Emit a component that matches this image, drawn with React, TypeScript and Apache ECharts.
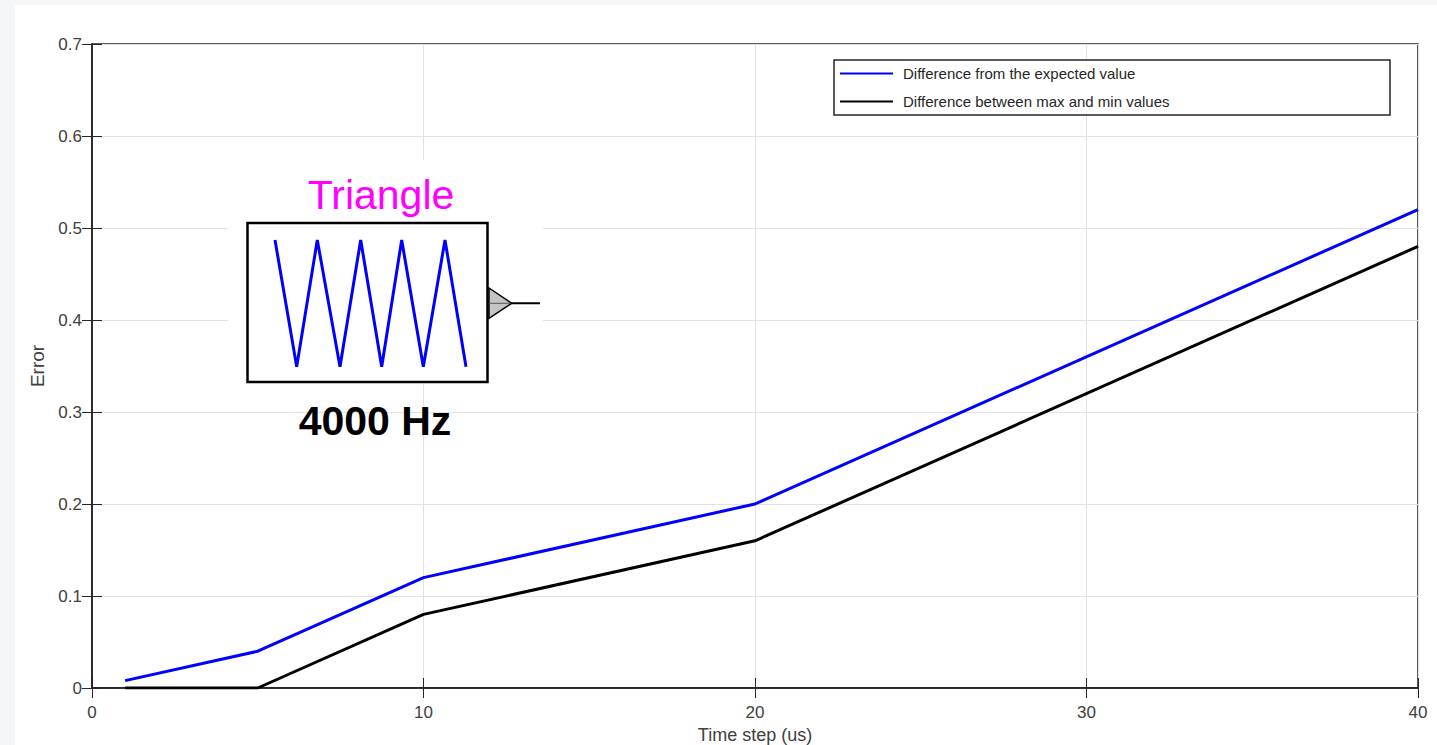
import React, { useEffect, useRef } from "react";
import * as echarts from "echarts";

const timeSteps = [1, 5, 10, 20, 40];
const diffExpected = [0.008, 0.04, 0.12, 0.2, 0.52];
const diffMaxMin = [0, 0, 0.08, 0.16, 0.48];
const seriesNames = ["Difference from the expected value", "Difference between max and min values"];
const xTicks = [0, 10, 20, 30, 40];
const yTicks = [0, 0.1, 0.2, 0.3, 0.4, 0.5, 0.6, 0.7];

const FONT = "Liberation Sans, Arial, sans-serif";

export default function App() {
  const ref = useRef<HTMLDivElement>(null);
  useEffect(() => {
    if (!ref.current) return;
    const chart = echarts.init(ref.current, undefined, { renderer: "svg" });
    const tickLabel = { color: "#404040", fontSize: 17, fontFamily: FONT };
    const option: any = {
      animation: false,
      backgroundColor: "#ffffff",
      textStyle: { fontFamily: FONT },
      grid: {
        left: 77,
        right: 19,
        top: 39,
        bottom: 57,
        containLabel: false,
        outerBoundsMode: "none",
        show: true,
        borderColor: "#262626",
        borderWidth: 1.5,
        backgroundColor: "transparent",
      },
      legend: {
        left: 825,
        top: 61,
        orient: "vertical",
        padding: 0,
        itemGap: 13,
        itemWidth: 53,
        itemHeight: 14,
        icon: "path://M0,6 L53,6 L53,8 L0,8 Z",
        textStyle: { fontSize: 15, color: "#262626", fontFamily: FONT, padding: [0, 0, 0, 5] },
        data: seriesNames,
      },
      xAxis: [
        {
          type: "value",
          min: 0,
          max: 40,
          interval: 10,
          name: "Time step (us)",
          nameLocation: "middle",
          nameGap: 36,
          nameTextStyle: { fontSize: 18, color: "#404040", fontFamily: FONT },
          axisLine: { show: true, lineStyle: { color: "#262626", width: 1.5 } },
          axisTick: { show: true, inside: true, length: 10, lineStyle: { color: "#262626" } },
          axisLabel: { ...tickLabel, margin: 16, formatter: (v: number) => (xTicks.includes(v) ? String(v) : "") },
          splitLine: { show: true, lineStyle: { color: "#e2e2e2", width: 1 } },
        },
        {
          type: "value",
          position: "top",
          min: 0,
          max: 40,
          interval: 10,
          axisLine: { show: true, lineStyle: { color: "#262626", width: 1.5 } },
          axisTick: { show: true, inside: true, length: 10, lineStyle: { color: "#262626" } },
          axisLabel: { show: false },
          splitLine: { show: false },
        },
      ],
      yAxis: [
        {
          type: "value",
          min: 0,
          max: 0.7,
          interval: 0.1,
          name: "Error",
          nameLocation: "middle",
          nameGap: 45,
          nameTextStyle: { fontSize: 19, color: "#404040", fontFamily: FONT },
          axisLine: { show: true, lineStyle: { color: "#262626", width: 1.5 } },
          axisTick: { show: true, inside: true, length: 10, lineStyle: { color: "#262626" } },
          axisLabel: {
            ...tickLabel,
            margin: 10,
            formatter: (v: number) => {
              const r = Math.round(v * 10) / 10;
              return yTicks.includes(r) ? String(r) : "";
            },
          },
          splitLine: { show: true, lineStyle: { color: "#e2e2e2", width: 1 } },
        },
        {
          type: "value",
          position: "right",
          min: 0,
          max: 0.7,
          interval: 0.1,
          axisLine: { show: true, lineStyle: { color: "#262626", width: 1.5 } },
          axisTick: { show: true, inside: true, length: 10, lineStyle: { color: "#262626" } },
          axisLabel: { show: false },
          splitLine: { show: false },
        },
      ],
      series: [
        {
          name: seriesNames[0],
          type: "line",
          data: timeSteps.map((t, i) => [t, diffExpected[i]]),
          showSymbol: false,
          symbol: "none",
          lineStyle: { color: "#0000ff", width: 3 },
          itemStyle: { color: "#0000ff" },
          z: 3,
        },
        {
          name: seriesNames[1],
          type: "line",
          data: timeSteps.map((t, i) => [t, diffMaxMin[i]]),
          showSymbol: false,
          symbol: "none",
          lineStyle: { color: "#000000", width: 3 },
          itemStyle: { color: "#000000" },
          z: 3,
        },
      ],
      graphic: [
        {
          type: "rect",
          z: 1,
          silent: true,
          shape: { x: 819, y: 55, width: 556, height: 55 },
          style: { fill: "#ffffff", stroke: "#262626", lineWidth: 1.5 },
        },
        {
          type: "rect",
          z: 10,
          silent: true,
          shape: { x: 213, y: 155, width: 315, height: 224 },
          style: { fill: "#ffffff" },
        },
        {
          type: "text",
          z: 11,
          x: 366,
          y: 190,
          style: {
            text: "Triangle",
            fill: "#ff00ff",
            fontSize: 41,
            fontFamily: FONT,
            textAlign: "center",
            textVerticalAlign: "middle",
          },
        },
        {
          type: "rect",
          z: 11,
          shape: { x: 232.5, y: 218, width: 240, height: 159 },
          style: { fill: "#ffffff", stroke: "#000000", lineWidth: 2.5 },
        },
        {
          type: "polyline",
          z: 12,
          shape: {
            points: [
              [260, 235], [281.7, 361.7], [302.3, 235], [325, 361.7], [345.7, 235],
              [366.7, 361.7], [386.7, 235], [408.3, 361.7], [430, 235], [451, 361.7],
            ],
          },
          style: { stroke: "#0000ff", lineWidth: 3, fill: null },
        },
        {
          type: "line",
          z: 11,
          shape: { x1: 474, y1: 298.3, x2: 525, y2: 298.3 },
          style: { stroke: "#000000", lineWidth: 2 },
        },
        {
          type: "polygon",
          z: 12,
          shape: { points: [[474, 283], [496.7, 298.3], [474, 313.3]] },
          style: { fill: "#c4c4c4", stroke: "#000000", lineWidth: 1.5 },
        },
        {
          type: "line",
          z: 13,
          shape: { x1: 474, y1: 298.3, x2: 496, y2: 298.3 },
          style: { stroke: "#555555", lineWidth: 1 },
        },
        {
          type: "text",
          z: 11,
          x: 360,
          y: 416,
          style: {
            text: "4000 Hz",
            fill: "#000000",
            fontSize: 41,
            fontWeight: "bold",
            fontFamily: FONT,
            textAlign: "center",
            textVerticalAlign: "middle",
          },
        },
      ],
    };
    chart.setOption(option);
    return () => chart.dispose();
  }, []);
  return (
    <div style={{ position: "fixed", left: 0, top: 0, width: 1437, height: 745, background: "#f5f6f8", overflow: "hidden" }}>
      <div ref={ref} style={{ position: "absolute", left: 15, top: 5, width: 1422, height: 740 }} />
    </div>
  );
}
